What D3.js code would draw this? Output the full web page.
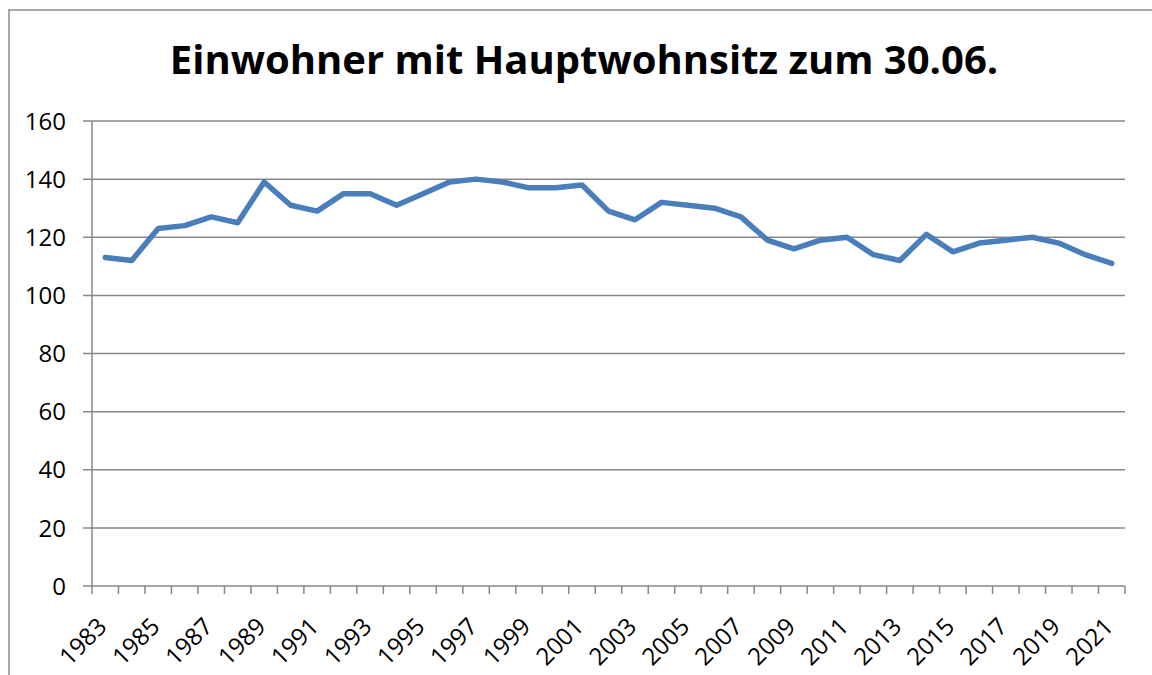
<!DOCTYPE html>
<meta charset="utf-8">
<script src="https://d3js.org/d3.v7.min.js"></script>
<style>
  body { margin: 0; background: #fff; }
  text { font-family: "Open Sans", sans-serif; fill: #000; }
</style>
<div id="chart"></div>
<script>
  // data
  var years = d3.range(1983, 2022)
  var values = [113, 112, 123, 124, 127, 125, 139, 131, 129, 135,
                135, 131, 135, 139, 140, 139, 137, 137, 138, 129,
                126, 132, 131, 130, 127, 119, 116, 119, 120, 114,
                112, 121, 115, 118, 119, 120, 118, 114, 111]
  var yTicks = [0, 20, 40, 60, 80, 100, 120, 140, 160]
  var title = "Einwohner mit Hauptwohnsitz zum 30.06."

  var width = 1152, height = 675
  var mLeft = 92, mRight = 1125, mTop = 121, mBottom = 586

  var svg = d3.select("#chart").append("svg")
      .attr("width", width)
      .attr("height", height)

  // outer frame of the chart area
  svg.append("rect")
      .attr("x", 9).attr("y", 10)
      .attr("width", 1300).attr("height", 800)
      .attr("fill", "none")
      .attr("stroke", "#8c8c8c")
      .attr("stroke-width", 1.5)

  svg.append("text")
      .attr("x", 584).attr("y", 74)
      .attr("text-anchor", "middle")
      .style("font-size", "40px")
      .style("font-weight", "bold")
      .text(title)

  var x = d3.scaleBand().domain(years).range([mLeft, mRight])
  var y = d3.scaleLinear().domain([0, 160]).range([mBottom, mTop])

  // gridlines + y ticks
  svg.append("g").selectAll("line")
    .data(yTicks)
    .enter().append("line")
      .attr("x1", mLeft - 9).attr("x2", mRight)
      .attr("y1", function(d){ return y(d) })
      .attr("y2", function(d){ return y(d) })
      .attr("stroke", "#878787")
      .attr("stroke-width", 1.5)

  svg.append("g").selectAll("text")
    .data(yTicks)
    .enter().append("text")
      .attr("x", 66)
      .attr("y", function(d){ return y(d) })
      .attr("dy", "0.36em")
      .attr("text-anchor", "end")
      .style("font-size", "24px")
      .text(function(d){ return d })

  // y axis line
  svg.append("line")
      .attr("x1", mLeft).attr("x2", mLeft)
      .attr("y1", mTop).attr("y2", mBottom)
      .attr("stroke", "#878787")
      .attr("stroke-width", 1.5)

  // x ticks between categories
  var edges = years.map(function(d){ return x(d) }).concat([mRight])
  svg.append("g").selectAll("line")
    .data(edges)
    .enter().append("line")
      .attr("x1", function(d){ return d }).attr("x2", function(d){ return d })
      .attr("y1", mBottom).attr("y2", mBottom + 8)
      .attr("stroke", "#878787")
      .attr("stroke-width", 1.5)

  svg.append("g").selectAll("text")
    .data(years.filter(function(d, i){ return i % 2 == 0 }))
    .enter().append("text")
      .attr("text-anchor", "end")
      .attr("transform", function(d){
        return "translate(" + (x(d) + x.bandwidth() / 2 + 3) + "," + (mBottom + 42) + ") rotate(-45)"
      })
      .style("font-size", "24px")
      .text(function(d){ return d })

  var line = d3.line()
      .x(function(d, i){ return x(years[i]) + x.bandwidth() / 2 })
      .y(function(d){ return y(d) })

  svg.append("path")
      .datum(values)
      .attr("d", line)
      .attr("fill", "none")
      .attr("stroke", "#4a7ebb")
      .attr("stroke-width", 5.5)
      .attr("stroke-linejoin", "round")
      .attr("stroke-linecap", "round")
</script>
